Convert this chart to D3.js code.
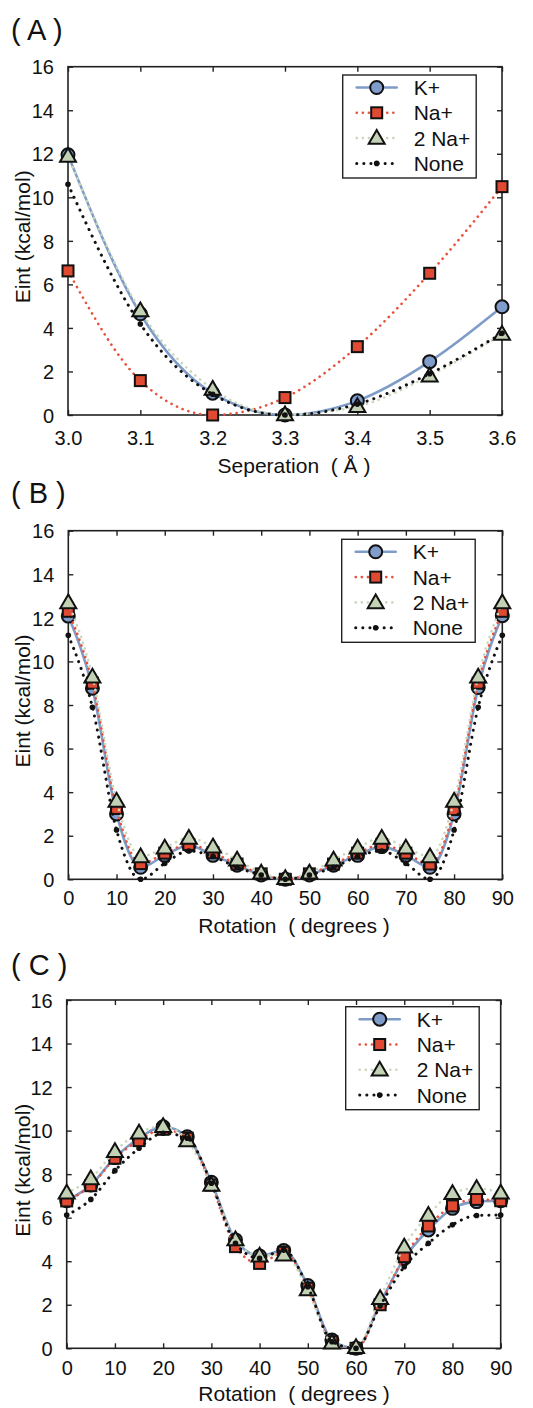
<!DOCTYPE html>
<html>
<head>
<meta charset="utf-8">
<script src="https://cdn.jsdelivr.net/npm/d3@7/dist/d3.min.js"></script>
<style>
  html, body { margin: 0; padding: 0; background: #fff; }
  svg { display: block; }
  text { font-family: Arial, "Liberation Sans", Helvetica, sans-serif; fill: #111; }
</style>
</head>
<body>
<svg id="fig" width="533" height="1408"></svg>
<script>
// ---- data ----
const seriesNames = ["K+", "Na+", "2 Na+", "None"];

// (A) interaction energy vs. separation
const sepX = [3.0, 3.1, 3.2, 3.3, 3.4, 3.5, 3.6];
const sepK = [11.95, 4.65, 1.0, 0.0, 0.65, 2.45, 4.97];
const sepNa = [6.62, 1.58, 0.0, 0.8, 3.14, 6.51, 10.49];
const sepNa2 = [11.9, 4.8, 1.2, 0.02, 0.4, 1.8, 3.72];
const sepNone = [10.6, 4.18, 0.95, 0.0, 0.5, 1.9, 3.75];
const sepTicks = [3.0, 3.1, 3.2, 3.3, 3.4, 3.5, 3.6];

// (B) interaction energy vs. rotation
const rotX = [0, 5, 10, 15, 20, 25, 30, 35, 40, 45, 50, 55, 60, 65, 70, 75, 80, 85, 90];
const rotBK = [12.08, 8.77, 3.0, 0.55, 1.1, 1.55, 1.1, 0.65, 0.2, 0.0, 0.2, 0.65, 1.1, 1.5, 1.1, 0.55, 3.0, 8.8, 12.1];
const rotBNa = [12.3, 9.0, 3.25, 0.72, 1.2, 1.6, 1.22, 0.7, 0.25, 0.0, 0.25, 0.7, 1.2, 1.6, 1.2, 0.7, 3.2, 9.0, 12.3];
const rotBNa2 = [12.7, 9.3, 3.6, 1.05, 1.45, 1.9, 1.5, 0.9, 0.3, 0.05, 0.3, 0.9, 1.45, 1.9, 1.45, 1.05, 3.6, 9.3, 12.7];
const rotBNone = [11.2, 7.9, 2.26, 0.0, 0.73, 1.3, 1.05, 0.55, 0.2, 0.0, 0.2, 0.55, 1.05, 1.3, 0.73, 0.0, 2.26, 7.9, 11.2];

// (C) interaction energy vs. rotation, second geometry
const rotCK = [6.78, 7.5, 8.76, 9.65, 10.18, 9.72, 7.63, 4.98, 4.24, 4.49, 2.88, 0.38, 0.0, 2.07, 4.13, 5.44, 6.43, 6.74, 6.78];
const rotCNa = [6.77, 7.47, 8.73, 9.54, 10.06, 9.65, 7.5, 4.67, 3.9, 4.41, 2.76, 0.3, 0.0, 2.0, 4.21, 5.62, 6.54, 6.84, 6.78];
const rotCNa2 = [7.15, 7.8, 9.05, 9.9, 10.2, 9.55, 7.5, 5.0, 4.25, 4.3, 2.7, 0.25, 0.05, 2.3, 4.67, 6.12, 7.12, 7.35, 7.15];
const rotCNone = [6.12, 6.84, 8.16, 9.19, 9.88, 9.65, 7.58, 4.82, 4.13, 4.51, 2.83, 0.3, 0.0, 1.95, 3.75, 4.82, 5.67, 6.1, 6.12];
const rotTicks = [0, 10, 20, 30, 40, 50, 60, 70, 80, 90];

const yTicks = [0, 2, 4, 6, 8, 10, 12, 14, 16];

// ---- styles ----
const styles = {
  "K+":    { line: "#7f9cc8", width: 2.6, dash: null, marker: "circle", fill: "#7f9ccb" },
  "Na+":   { line: "#e8503a", width: 2.6, dash: "0.1,6", marker: "square", fill: "#e04a33" },
  "2 Na+": { line: "#c9d8bb", width: 2.6, dash: "0.1,6", marker: "triangle", fill: "#c3d1b4" },
  "None":  { line: "#111111", width: 3.0, dash: "0.1,7", marker: "dot", fill: "#111111" }
};

const svg = d3.select("#fig");

function drawMarker(g, type, x, y) {
  if (type === "circle") {
    g.append("circle").attr("cx", x).attr("cy", y).attr("r", 6.5)
      .attr("fill", styles["K+"].fill).attr("stroke", "#111").attr("stroke-width", 2);
  } else if (type === "square") {
    g.append("rect").attr("x", x - 5.5).attr("y", y - 5.5).attr("width", 11).attr("height", 11)
      .attr("fill", styles["Na+"].fill).attr("stroke", "#111").attr("stroke-width", 2);
  } else if (type === "triangle") {
    const s = 8;
    g.append("path")
      .attr("d", `M${x},${y - s}L${x + s},${y + s * 0.72}L${x - s},${y + s * 0.72}Z`)
      .attr("fill", styles["2 Na+"].fill).attr("stroke", "#111").attr("stroke-width", 2)
      .attr("stroke-linejoin", "miter");
  } else {
    g.append("circle").attr("cx", x).attr("cy", y).attr("r", 2.8).attr("fill", "#111");
  }
}

function panel(cfg) {
  const { left, right, top, bottom } = cfg;
  const x = d3.scaleLinear().domain(cfg.xDomain).range([left, right]);
  const y = d3.scaleLinear().domain([0, 16]).range([bottom, top]);
  const g = svg.append("g");

  // panel label
  g.append("text").attr("x", 11).attr("y", cfg.labelY)
    .attr("font-size", 29).attr("xml:space", "preserve").text(cfg.label);

  // axes with inward ticks, mirrored on top and right
  const bottomAxis = d3.axisBottom(x).tickValues(cfg.xTicks).tickSizeInner(-5).tickSizeOuter(0).tickFormat(cfg.xFormat);
  const topAxis = d3.axisTop(x).tickValues(cfg.xTicks).tickSizeInner(-5).tickSizeOuter(0).tickFormat("");
  const leftAxis = d3.axisLeft(y).tickValues(yTicks).tickSizeInner(-5).tickSizeOuter(0).tickFormat(d3.format("d"));
  const rightAxis = d3.axisRight(y).tickValues(yTicks).tickSizeInner(-5).tickSizeOuter(0).tickFormat("");

  const gb = g.append("g").attr("transform", `translate(0,${bottom})`).call(bottomAxis);
  const gt = g.append("g").attr("transform", `translate(0,${top})`).call(topAxis);
  const gl = g.append("g").attr("transform", `translate(${left},0)`).call(leftAxis);
  const gr = g.append("g").attr("transform", `translate(${right},0)`).call(rightAxis);
  [gb, gt, gl, gr].forEach(a => {
    a.select(".domain").remove();
    a.selectAll(".tick line").attr("stroke", "#222").attr("stroke-width", 1.4);
  });
  gb.selectAll(".tick text").attr("font-size", 20).attr("fill", "#111")
    .attr("y", cfg.xLabelOffset).attr("dy", 0).attr("font-family", "Arial, 'Liberation Sans', sans-serif");
  gl.selectAll(".tick text").attr("font-size", 20).attr("fill", "#111")
    .attr("x", -14).attr("dy", "0.36em").attr("font-family", "Arial, 'Liberation Sans', sans-serif");

  // frame
  g.append("rect").attr("x", left).attr("y", top).attr("width", right - left).attr("height", bottom - top)
    .attr("fill", "none").attr("stroke", "#222").attr("stroke-width", 1.6);

  // axis titles
  g.append("text").attr("x", 294).attr("y", bottom + cfg.xTitleOffset)
    .attr("text-anchor", "middle").attr("font-size", 21).attr("xml:space", "preserve").text(cfg.xTitle);
  g.append("text")
    .attr("transform", `translate(${cfg.yTitleX},${(top + bottom) / 2 - 4}) rotate(-90)`)
    .attr("text-anchor", "middle").attr("font-size", 21).text("Eint (kcal/mol)");

  // series: smoothed lines that do not overshoot between points
  const line = d3.line().x(d => x(d[0])).y(d => y(d[1])).curve(d3.curveMonotoneX);
  seriesNames.forEach((name, i) => {
    const st = styles[name];
    const pts = cfg.xs.map((xv, j) => [xv, cfg.ys[i][j]]);
    const sg = g.append("g");
    sg.append("path").attr("d", line(pts)).attr("fill", "none")
      .attr("stroke", st.line).attr("stroke-width", st.width)
      .attr("stroke-linecap", "round")
      .attr("stroke-dasharray", st.dash);
    pts.forEach(p => drawMarker(sg, st.marker, x(p[0]), y(p[1])));
  });

  // legend
  const lx = right - cfg.legOffX, ly = top + cfg.legOffY;
  const lg = g.append("g");
  lg.append("rect").attr("x", lx).attr("y", ly).attr("width", 133.5).attr("height", 103)
    .attr("fill", "#fff").attr("stroke", "#222").attr("stroke-width", 1.4);
  seriesNames.forEach((name, i) => {
    const st = styles[name];
    const ry = ly + 12.5 + i * 25.3;
    lg.append("line").attr("x1", lx + 14).attr("x2", lx + 54).attr("y1", ry).attr("y2", ry)
      .attr("stroke", st.line).attr("stroke-width", st.width)
      .attr("stroke-linecap", "round").attr("stroke-dasharray", st.dash);
    drawMarker(lg, st.marker, lx + 34, ry);
    lg.append("text").attr("x", lx + 71).attr("y", ry).attr("dy", "0.36em")
      .attr("font-size", 21).text(name);
  });
}

panel({
  label: "( A )", labelY: 40,
  left: 68, right: 502, top: 66.7, bottom: 415,
  xDomain: [3.0, 3.6], xTicks: sepTicks, xFormat: d3.format(".1f"), xLabelOffset: 29.5,
  xTitle: "Seperation  ( Å )", xTitleOffset: 57.5, yTitleX: 30,
  xs: sepX, ys: [sepK, sepNa, sepNa2, sepNone],
  legOffX: 159.3, legOffY: 8.3
});

panel({
  label: "( B )", labelY: 503,
  left: 68.3, right: 502.3, top: 530.7, bottom: 879.3,
  xDomain: [0, 90], xTicks: rotTicks, xFormat: d3.format("d"), xLabelOffset: 26,
  xTitle: "Rotation  ( degrees )", xTitleOffset: 54, yTitleX: 30,
  xs: rotX, ys: [rotBK, rotBNa, rotBNa2, rotBNone],
  legOffX: 160.6, legOffY: 8.6
});

panel({
  label: "( C )", labelY: 975,
  left: 66.7, right: 500.7, top: 1000, bottom: 1348.3,
  xDomain: [0, 90], xTicks: rotTicks, xFormat: d3.format("d"), xLabelOffset: 27,
  xTitle: "Rotation  ( degrees )", xTitleOffset: 53, yTitleX: 30,
  xs: rotX, ys: [rotCK, rotCNa, rotCNa2, rotCNone],
  legOffX: 155, legOffY: 6.7
});
</script>
</body>
</html>
